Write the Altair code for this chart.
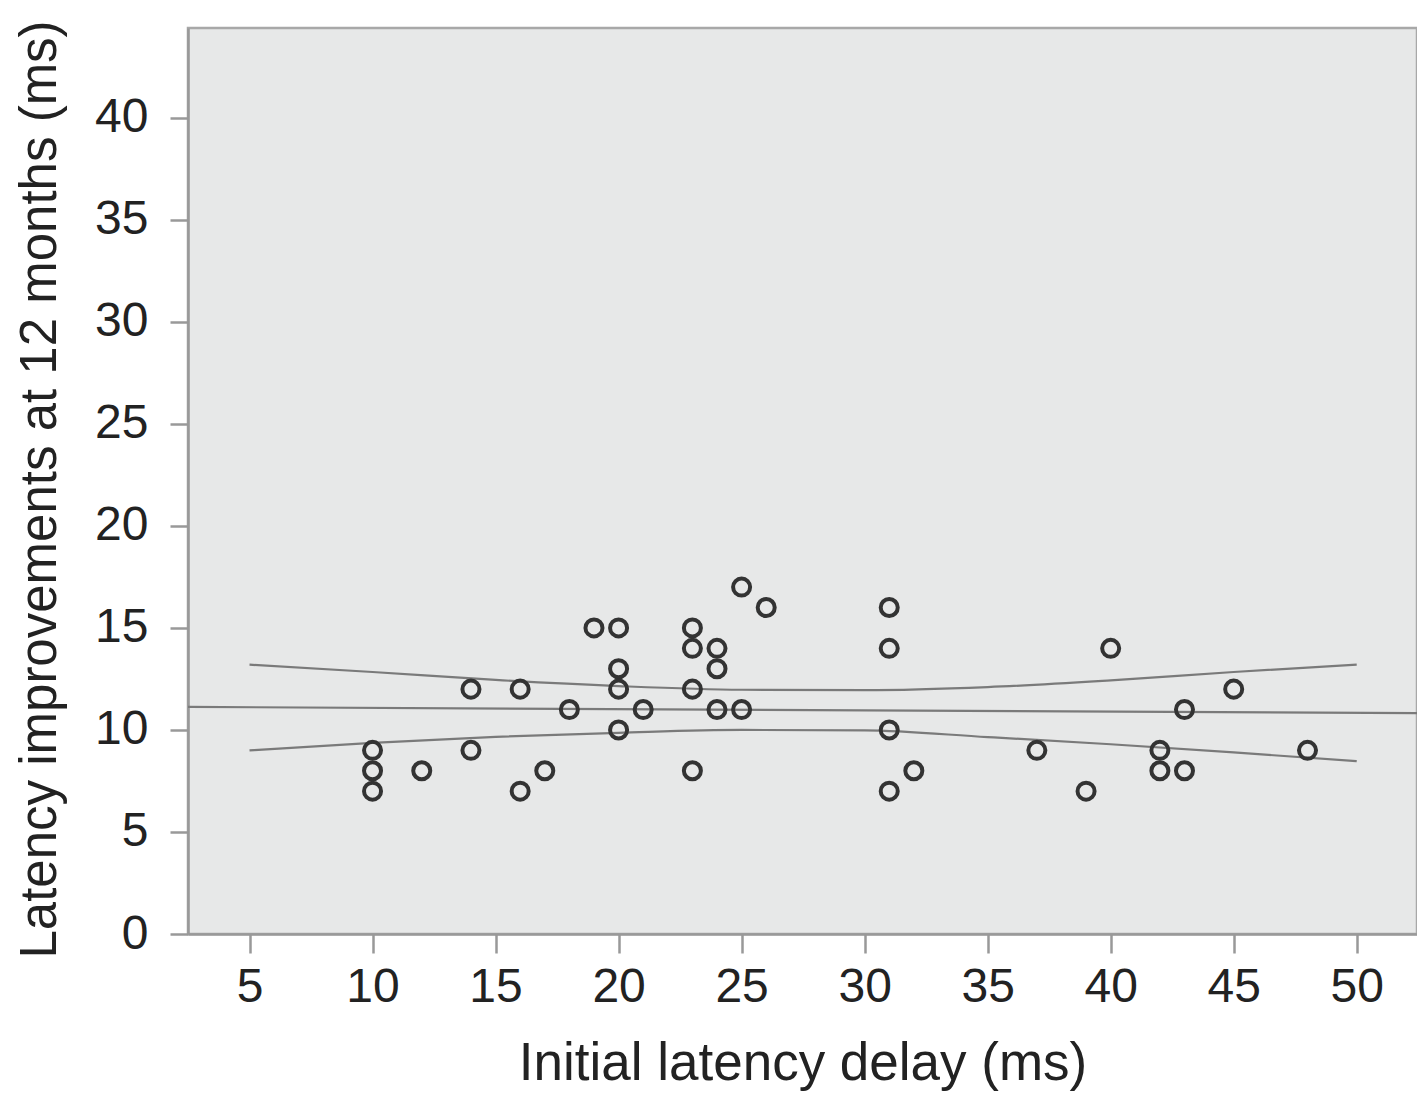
import altair as alt
import pandas as pd

# scatter data: initial latency delay (ms) vs latency improvement at 12 months (ms)
delay = [10, 10, 10, 12, 14, 14, 16, 16, 17, 18, 19, 20, 20, 20, 20, 21,
         23, 23, 23, 23, 24, 24, 24, 25, 25, 26, 31, 31, 31, 31, 32, 37,
         39, 40, 42, 42, 43, 43, 45, 48]
improve = [9, 8, 7, 8, 12, 9, 12, 7, 8, 11, 15, 15, 13, 12, 10, 11,
           15, 14, 12, 8, 14, 13, 11, 17, 11, 16, 16, 14, 10, 7, 8, 9,
           7, 14, 9, 8, 11, 8, 12, 9]

# fit line (read at plot edges)
fit_x = [2.5, 52.45]
fit_y = [11.13, 10.82]

# confidence band lines
band_x = [5, 10, 15, 20, 25, 30, 35, 40, 45, 50]
upper_y = [13.2, 12.84, 12.45, 12.15, 11.97, 11.95, 12.1, 12.43, 12.84, 13.2]
lower_y = [9.0, 9.37, 9.66, 9.86, 10.0, 9.98, 9.65, 9.3, 8.9, 8.47]

x_ticks = [5, 10, 15, 20, 25, 30, 35, 40, 45, 50]
y_ticks = [0, 5, 10, 15, 20, 25, 30, 35, 40]

FONT = "Liberation Sans"

pts = pd.DataFrame({"x": delay, "y": improve})
fit = pd.DataFrame({"x": fit_x, "y": fit_y})
band = pd.DataFrame({
    "x": band_x + band_x,
    "y": upper_y + lower_y,
    "s": ["upper"] * len(band_x) + ["lower"] * len(band_x),
})

xscale = alt.Scale(domain=[2.5, 52.45], nice=False, zero=False)
yscale = alt.Scale(domain=[0, 44.4], nice=False)

xaxis = alt.Axis(title="Initial latency delay (ms)", values=x_ticks, grid=False,
                 tickSize=19, labelPadding=10, titlePadding=26, titleFontSize=53)
yaxis = alt.Axis(title="Latency improvements at 12 months (ms)", values=y_ticks,
                 grid=False, tickSize=18, labelPadding=22, titlePadding=28,
                 titleY=461, titleFontSize=51)

points = alt.Chart(pts).mark_point(
    shape="circle", filled=False, size=290, strokeWidth=4, color="#333333", opacity=1
).encode(
    x=alt.X("x:Q", scale=xscale, axis=xaxis),
    y=alt.Y("y:Q", scale=yscale, axis=yaxis),
)

fit_line = alt.Chart(fit).mark_line(color="#7a7a7a", strokeWidth=2.2).encode(
    x=alt.X("x:Q", scale=xscale),
    y=alt.Y("y:Q", scale=yscale),
)

band_lines = alt.Chart(band).mark_line(color="#7a7a7a", strokeWidth=2.2, interpolate="monotone").encode(
    x=alt.X("x:Q", scale=xscale),
    y=alt.Y("y:Q", scale=yscale),
    detail="s:N",
)

chart = alt.layer(fit_line, band_lines, points).properties(
    width=1229, height=906,
    autosize=alt.AutoSizeParams(type="none"),
    padding={"left": 180, "top": 20, "right": 0, "bottom": 157},
).configure_view(
    fill="#e7e8e8", stroke="#a8a8a8", strokeWidth=2.5
).configure_axis(
    domainColor="#999999", domainWidth=2.5, tickColor="#999999", tickWidth=2.5,
    labelFont=FONT, titleFont=FONT, labelFontSize=48, titleFontSize=52,
    labelColor="#222222", titleColor="#222222", titleFontWeight="normal",
)

chart.save("out.html", embed_options={"renderer": "svg", "actions": False})
